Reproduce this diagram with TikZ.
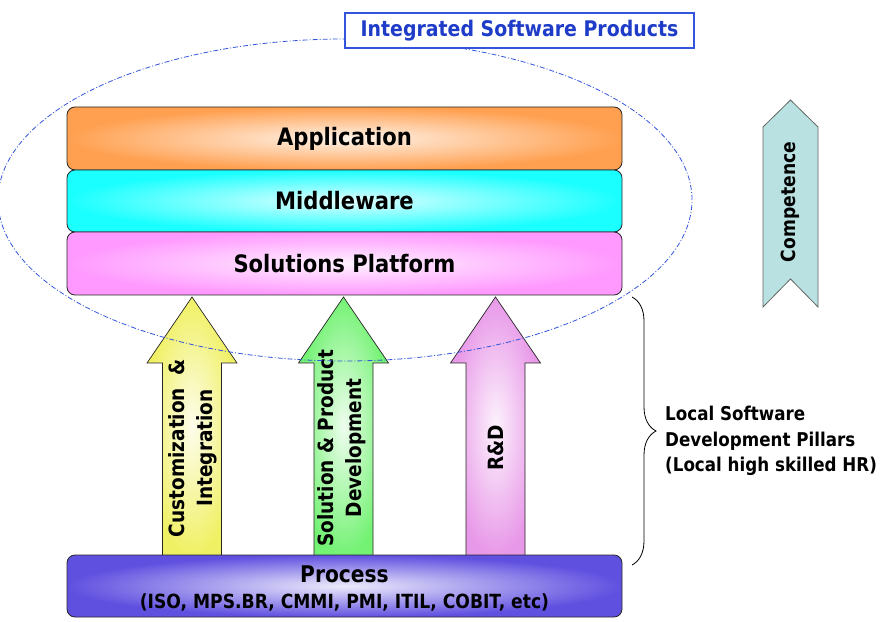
\documentclass[tikz,border=0pt]{standalone}
\usepackage{fontspec}
\usepackage{xcolor}
\usepackage{tikz}
\usetikzlibrary{positioning,decorations.pathreplacing}
\setmainfont{DejaVu Sans}[FakeStretch=0.88]

\definecolor{apporange}{HTML}{FFA050}
\definecolor{midcyan}{HTML}{1AFFFF}
\definecolor{solpink}{HTML}{FF99FF}
\definecolor{procblue}{HTML}{6050E0}
\definecolor{custyellow}{HTML}{F0F064}
\definecolor{devgreen}{HTML}{74F274}
\definecolor{rdpink}{HTML}{E898E8}
\definecolor{compteal}{HTML}{B9E1E1}
\definecolor{isblue}{HTML}{3355DD}
\definecolor{istext}{HTML}{1E3CC8}

\begin{document}
\begin{tikzpicture}[x=1pt, y=1pt,
            node distance=0pt,
            layer/.style = {shape=rectangle, rounded corners=8pt,
                            draw=black!85, line width=0.8pt,
                            minimum width=555pt, outer sep=0pt,
                            font=\fontsize{24}{28}\selectfont\bfseries},
            glow/.style = {inner color=#1!12!white, outer color=#1},
            pillar/.style = {draw=black!85, line width=0.7pt},
            pillartext/.style = {rotate=90, align=center,
                                font=\fontsize{21}{28}\selectfont\bfseries}]
    \useasboundingbox (0,0) rectangle (893,621);

    % pillars, standing on the process layer
    \foreach \px/\pc in {192/custyellow, 343.5/devgreen, 495.5/rdpink}
        \draw[pillar, glow=\pc] (\px-29.5,65) -- (\px-29.5,258) -- (\px-45,258)
            -- (\px,324) -- (\px+45,258) -- (\px+29.5,258) -- (\px+29.5,65) -- cycle;
    \node[pillartext] (cust) at (193,173) {Customization \ \&\\Integration};
    \node[pillartext] (dev) at (342,173) {Solution \& Product\\Development};
    \node[pillartext] (rd) at (496,173) {R\&D};

    % stacked layers
    \node[layer, glow=apporange, minimum height=63pt] (app) at (344.5,482.5) {Application};
    \node[layer, glow=midcyan, minimum height=62pt, below=of app] (mid) {Middleware};
    \node[layer, glow=solpink, minimum height=63pt, below=of mid] (sol) {Solutions Platform};
    \node[layer, glow=procblue, minimum height=62pt] (proc) at (344.5,35)
        {\raisebox{-4pt}[\height][\depth]{\begin{tabular}{@{}c@{}}
         \fontsize{23}{27}\selectfont Process\\[-2pt]
         \fontsize{19.5}{22}\selectfont (ISO, MPS.BR, CMMI, PMI, ITIL, COBIT, etc)
         \end{tabular}}};

    % integrated products
    \draw[isblue, line width=0.8pt, dash pattern=on 5pt off 2pt on 1pt off 2pt]
        (345,421) ellipse [x radius=347, y radius=161];
    \node[draw=isblue, line width=1.2pt, fill=white, text=istext,
          minimum width=349pt, minimum height=35pt,
          font=\fontsize{21.5}{25}\selectfont\bfseries] (isp) at (519.5,590.5)
        {Integrated Software Products};

    % competence
    \draw[draw=black!60, line width=0.8pt, fill=compteal] (763,494) -- (790.5,521) -- (818,494)
        -- (818,314) -- (790.5,342) -- (763,314) -- cycle;
    \node[rotate=90, font=\fontsize{19.5}{24}\selectfont\bfseries] (comp) at (790.5,419) {Competence};

    % local pillars brace
    \coordinate (bracetop) at (632,324);
    \coordinate (bracebot) at (632,56);
    \draw[line width=0.8pt, decorate, decoration={brace, amplitude=24pt}] (bracetop) -- (bracebot);
    \node[anchor=west, align=left, inner sep=0pt,
          font=\fontsize{19}{25.5}\selectfont\bfseries] (hr) at (665,180)
        {Local Software\\Development Pillars\\(Local high skilled HR)};
\end{tikzpicture}
\end{document}
